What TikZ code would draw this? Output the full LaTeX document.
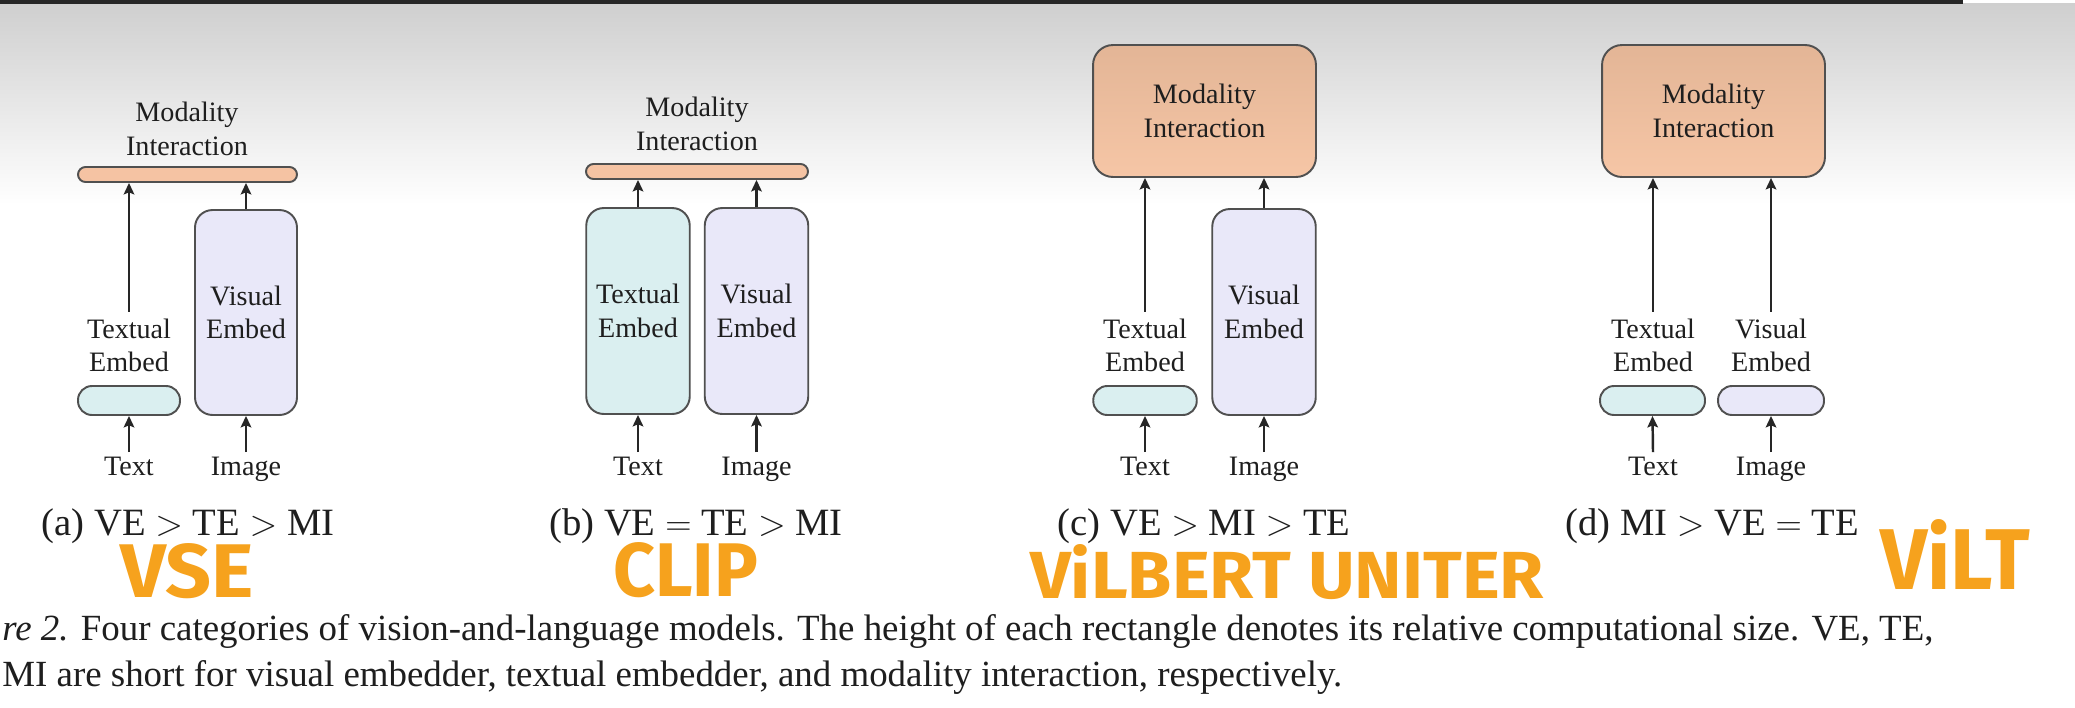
\documentclass[tikz,border=0pt]{standalone}
\usepackage{fontspec}
\usepackage{graphicx}
\setmainfont{Liberation Serif}
\newfontfamily\notefont{Fira Sans}
\usetikzlibrary{arrows.meta}
\definecolor{edgec}{HTML}{505050}
\definecolor{txtc}{HTML}{1E1E1E}
\definecolor{tefill}{HTML}{DAEFF0}
\definecolor{vefill}{HTML}{E9E8F9}
\definecolor{mifill}{HTML}{F5C3A3}
\definecolor{mitop}{HTML}{E3B596}
\definecolor{mibot}{HTML}{F6C6A6}
\definecolor{bgtop}{HTML}{CFCFCF}
\definecolor{barc}{HTML}{262626}
\definecolor{notec}{HTML}{F6A21D}
\newcommand\labfont{\fontsize{16}{19}\selectfont}
\newcommand\capfont{\fontsize{21}{25}\selectfont}
\newcommand\subcapfont{\fontsize{22}{26}\selectfont}
\tikzset{
  mybox/.style={draw=edgec, line width=1.1pt, inner sep=0pt, align=center, font=\labfont, text=txtc},
  tebox/.style={mybox, fill=tefill},
  vebox/.style={mybox, fill=vefill},
  mibar/.style={mybox, fill=mifill, rounded corners=0.15cm, minimum height=0.3cm},
  mibig/.style={mybox, top color=mitop, bottom color=mibot, rounded corners=0.4cm, minimum height=2.64cm, minimum width=4.46cm},
  tallbox/.style={rounded corners=0.35cm, minimum height=4.12cm, minimum width=2.07cm},
  pillbox/.style={rounded corners=0.28cm, minimum height=0.58cm, minimum width=2.07cm},
  lablab/.style={font=\labfont, text=txtc, align=center, inner sep=4pt},
  iolab/.style={font=\labfont, text=txtc, inner sep=6pt, text height=0.7em, text depth=0.22em},
  subcap/.style={font=\subcapfont, text=txtc, inner sep=0pt, text height=0.75em, text depth=0.25em},
  capline/.style={font=\capfont, text=txtc, inner sep=0pt, anchor=base west},
  myarr/.style={-{Stealth[length=6.5pt,width=6pt,inset=1.2pt]}, line width=1.4pt, black!85},
  handnote/.style={text=notec, inner sep=0pt, font=\notefont\bfseries},
}
\begin{document}
\begin{tikzpicture}[x=0.02cm, y=-0.02cm]
\useasboundingbox (0,0) rectangle (2075,707);
% background
\fill[white] (0,0) rectangle (2075,707);
\shade[top color=bgtop, bottom color=white] (0,3) rectangle (2075,205);
\fill[barc] (0,0) rectangle (1963,3.5);

% ---------- panel (a)
\node[mibar, minimum width=4.38cm] (aMI) at (187.5,174.5) {};
\node[lablab] (aMIt) at (187,129) {Modality\\Interaction};
\node[tebox, pillbox, minimum width=2.04cm] (aTE) at (129,400.5) {};
\node[lablab] (aTEl) at (129,345.5) {Textual\\Embed};
\node[vebox, tallbox, minimum width=2.04cm, minimum height=4.1cm] (aVE) at (246,312.5) {Visual\\Embed};
\node[iolab] (aT) at (129,471) {Text};
\node[iolab] (aI) at (246,471) {Image};
\draw[myarr] (aTEl.north) -- (aTEl.north |- aMI.south);
\draw[myarr] (aVE.north) -- (aVE.north |- aMI.south);
\draw[myarr] (aT.north) -- (aTE.south);
\draw[myarr] (aI.north) -- (aVE.south);
\node[subcap] (aC) at (188,531) {(a) VE $>$ TE $>$ MI};

% ---------- panel (b)
\node[mibar, minimum width=4.44cm] (bMI) at (697,171.5) {};
\node[lablab] (bMIt) at (697,124) {Modality\\Interaction};
\node[tebox, tallbox] (bTE) at (638,311) {Textual\\Embed};
\node[vebox, tallbox] (bVE) at (756.5,311) {Visual\\Embed};
\node[iolab] (bT) at (638,471) {Text};
\node[iolab] (bI) at (756.5,471) {Image};
\draw[myarr] (bTE.north) -- (bTE.north |- bMI.south);
\draw[myarr] (bVE.north) -- (bVE.north |- bMI.south);
\draw[myarr] (bT.north) -- (bTE.south);
\draw[myarr] (bI.north) -- (bVE.south);
\node[subcap] (bC) at (696,531) {(b) VE $=$ TE $>$ MI};

% ---------- panel (c)
\node[mibig] (cMI) at (1204.5,111) {Modality\\Interaction};
\node[tebox, pillbox] (cTE) at (1145,400.5) {};
\node[lablab] (cTEl) at (1145,345.5) {Textual\\Embed};
\node[vebox, tallbox] (cVE) at (1264,312) {Visual\\Embed};
\node[iolab] (cT) at (1145,471) {Text};
\node[iolab] (cI) at (1264,471) {Image};
\draw[myarr] (cTEl.north) -- (cTEl.north |- cMI.south);
\draw[myarr] (cVE.north) -- (cVE.north |- cMI.south);
\draw[myarr] (cT.north) -- (cTE.south);
\draw[myarr] (cI.north) -- (cVE.south);
\node[subcap] (cC) at (1204,531) {(c) VE $>$ MI $>$ TE};

% ---------- panel (d)
\node[mibig] (dMI) at (1713.5,111) {Modality\\Interaction};
\node[tebox, pillbox, minimum width=2.1cm] (dTE) at (1652.5,400.5) {};
\node[vebox, pillbox, minimum width=2.12cm] (dVE) at (1771,400.5) {};
\node[lablab] (dTEl) at (1653,345.5) {Textual\\Embed};
\node[lablab] (dVEl) at (1771,345.5) {Visual\\Embed};
\node[iolab] (dT) at (1653,471) {Text};
\node[iolab] (dI) at (1771,471) {Image};
\draw[myarr] (dTEl.north) -- (dTEl.north |- dMI.south);
\draw[myarr] (dVEl.north) -- (dVEl.north |- dMI.south);
\draw[myarr] (dT.north) -- (dTE.south);
\draw[myarr] (dI.north) -- (dVE.south);
\node[subcap] (dC) at (1712,531) {(d) MI $>$ VE $=$ TE};

% ---------- handwritten notes
\node[handnote] (n1) at (187.5,571) {\resizebox{2.66cm}{1.08cm}{VSE}};
\node[handnote] (n2) at (685.5,570) {\resizebox{2.9cm}{1.08cm}{CLIP}};
\node[handnote] (n3) at (1287,572) {\resizebox{10.28cm}{1.08cm}{ViLBERT UNITER}};
\node[handnote] (n4) at (1955,554) {\resizebox{3.0cm}{1.4cm}{ViLT}};

% ---------- figure caption
\node[capline] (l1) at (2,640) {\textit{re 2.} Four categories of vision-and-language models. The height of each rectangle denotes its relative computational size. VE, TE,};
\node[capline] (l2) at (2,686) {MI are short for visual embedder, textual embedder, and modality interaction, respectively.};
\end{tikzpicture}
\end{document}
